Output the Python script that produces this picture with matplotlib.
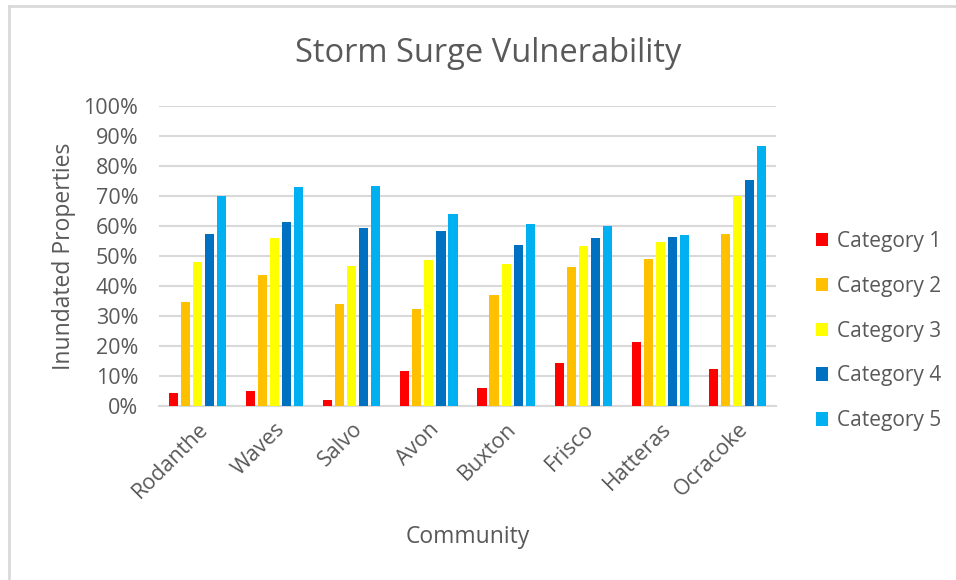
import numpy as np
import matplotlib
matplotlib.use('Agg')
import matplotlib.pyplot as plt
from matplotlib.lines import Line2D

plt.rcParams['font.family'] = ['Open Sans', 'DejaVu Sans']

# 数据：各社区在不同等级风暴潮下的受淹比例 (%)
communities = ['Rodanthe', 'Waves', 'Salvo', 'Avon', 'Buxton', 'Frisco', 'Hatteras', 'Ocracoke']
cat1 = [4.2, 4.9, 1.9, 11.6, 6.0, 14.2, 21.2, 12.2]
cat2 = [34.7, 43.8, 33.9, 32.2, 36.9, 46.3, 48.9, 57.2]
cat3 = [47.9, 56.0, 46.8, 48.6, 47.4, 53.3, 54.6, 70.1]
cat4 = [57.4, 61.4, 59.3, 58.4, 53.8, 56.1, 56.3, 75.3]
cat5 = [70.0, 72.9, 73.2, 64.1, 60.7, 60.0, 57.0, 86.8]
series_names = ['Category 1', 'Category 2', 'Category 3', 'Category 4', 'Category 5']
colors = ['#FF0000', '#FFC000', '#FFFF00', '#0070C0', '#00B0F0']

TEXT = '#595959'
GRID = '#D9D9D9'

fig = plt.figure(figsize=(9.56, 5.8), dpi=100)
ax = fig.add_axes([159 / 956, 174 / 580, 617 / 956, 300 / 580])

x = np.arange(len(communities))
pitch = 0.156
width = 0.118
for i, (vals, name, c) in enumerate(zip([cat1, cat2, cat3, cat4, cat5], series_names, colors)):
    ax.bar(x + (i - 2) * pitch, vals, width, color=c, label=name, zorder=3)

ax.set_xlim(-0.5, len(communities) - 0.5)
ax.set_ylim(0, 100)
ax.set_yticks(np.arange(0, 101, 10))
ax.set_yticklabels([f'{v}%' for v in range(0, 101, 10)], fontsize=15.5, color=TEXT)
ax.set_xticks(x)
ax.set_xticklabels(communities, rotation=45, ha='right', rotation_mode='anchor',
                   fontsize=15.5, color=TEXT)
ax.tick_params(axis='both', length=0)
ax.tick_params(axis='y', pad=15)
ax.tick_params(axis='x', pad=9)
ax.grid(axis='y', color=GRID, linewidth=1.5, zorder=0)
for s in ['top', 'right', 'left']:
    ax.spines[s].set_visible(False)
ax.spines['bottom'].set_color(GRID)
ax.spines['bottom'].set_linewidth(1.5)

ax.set_ylabel('Inundated Properties', fontsize=16.5, color=TEXT, labelpad=5)
ax.set_xlabel('Community', fontsize=16.5, color=TEXT, labelpad=16)
fig.text(488 / 956, 1 - 53 / 580, 'Storm Surge Vulnerability', fontsize=23.5,
         color=TEXT, ha='center', va='center')

leg = fig.legend(loc='center left', bbox_to_anchor=(797 / 956, 1 - 331 / 580),
                 frameon=False, fontsize=15, labelcolor=TEXT,
                 handlelength=0.6, handleheight=0.6, handletextpad=0.4,
                 labelspacing=1.15)

# 图表外框
fig.add_artist(Line2D([9 / 956, 9 / 956], [0, 1 - 6 / 580], color=GRID, lw=2))
fig.add_artist(Line2D([9 / 956, 1], [1 - 6 / 580, 1 - 6 / 580], color=GRID, lw=2))

fig.savefig('out.png', dpi=100)
